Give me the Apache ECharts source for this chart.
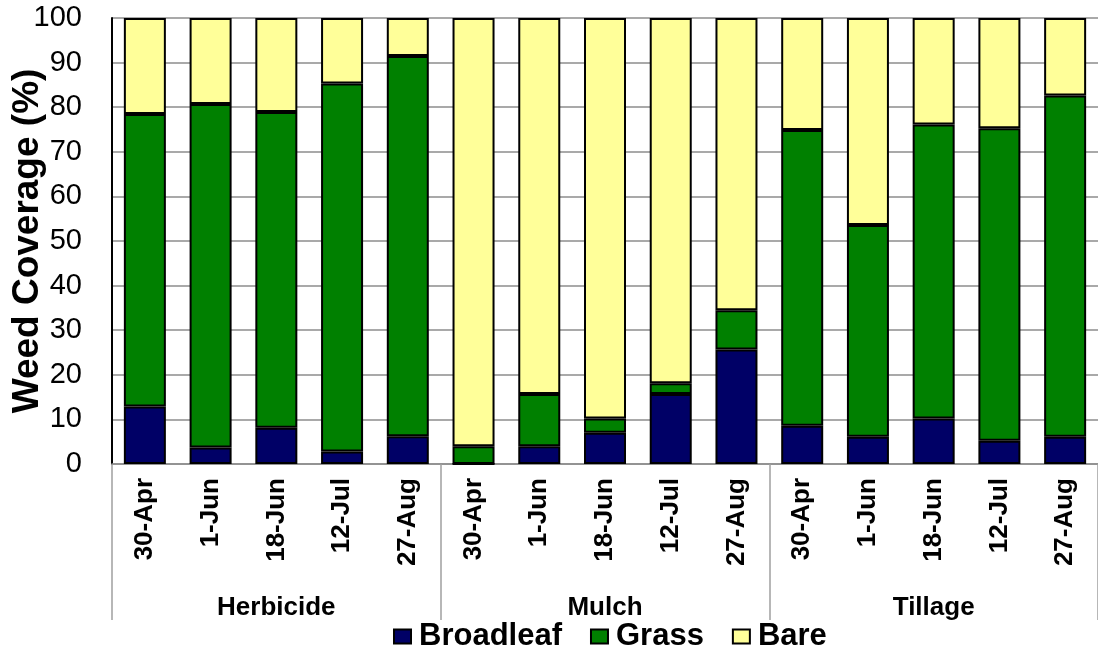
<!DOCTYPE html>
<html>
<head>
<meta charset="utf-8">
<script src="https://cdn.jsdelivr.net/npm/echarts@6/dist/echarts.min.js"></script>
<style>
  html, body { margin: 0; padding: 0; background: #fff; }
  #chart { width: 1098px; height: 652px; }
</style>
</head>
<body>
<div id="chart"></div>
<script>
const dates = ['30-Apr', '1-Jun', '18-Jun', '12-Jul', '27-Aug',
  '30-Apr', '1-Jun', '18-Jun', '12-Jul', '27-Aug',
  '30-Apr', '1-Jun', '18-Jun', '12-Jul', '27-Aug']
const groups = ['Herbicide', 'Mulch', 'Tillage']
const legend = ['Broadleaf', 'Grass', 'Bare']
const broadleaf = [12.9, 3.7, 8.1, 2.8, 6.2, 0, 4.0, 7.0, 15.7, 25.7, 8.6, 6.1, 10.2, 5.2, 6.1]
const grass = [65.6, 77.0, 70.8, 82.5, 85.3, 4.0, 11.7, 3.2, 2.4, 8.8, 66.3, 47.5, 65.9, 70.1, 76.5]
const bare = [21.5, 19.3, 21.1, 14.7, 8.5, 96.0, 84.3, 89.8, 81.9, 65.5, 25.1, 46.4, 23.9, 24.7, 17.4]
const yTicks = [0, 10, 20, 30, 40, 50, 60, 70, 80, 90, 100]

const font = "'Liberation Sans', Arial, sans-serif"
const colorRange = ['#000066', '#008000', '#FFFF99']
const seriesData = [broadleaf, grass, bare]

let option = {
  backgroundColor: '#FFFFFF',
  animation: false,
  textStyle: { fontFamily: font, color: '#000' },
  grid: {
    left: 112,
    right: 0,
    top: 18,
    bottom: 188,
    outerBoundsMode: 'none'
  },
  legend: {
    data: legend,
    left: 388,
    top: 616,
    icon: 'rect',
    itemWidth: 17,
    itemHeight: 14,
    itemGap: 28,
    textStyle: { fontFamily: font, fontSize: 31, fontWeight: 'bold', color: '#000', padding: [0, 0, 0, 3] }
  },
  xAxis: [
    {
      type: 'category',
      data: dates,
      axisLine: { show: true, lineStyle: { color: '#8c8c8c', width: 1.5 } },
      axisTick: { show: false },
      axisLabel: {
        rotate: 90,
        interval: 0,
        margin: 14,
        fontFamily: font,
        fontSize: 26,
        fontWeight: 'bold',
        color: '#000'
      }
    },
    {
      // second row: treatment groups with long separator ticks
      type: 'category',
      data: groups,
      position: 'bottom',
      boundaryGap: true,
      axisLine: { show: false },
      axisTick: { show: true, interval: 0, length: 156, lineStyle: { color: '#a0a0a0', width: 1.5 } },
      axisLabel: {
        interval: 0,
        margin: 131,
        fontFamily: font,
        fontSize: 26,
        fontWeight: 'bold',
        color: '#000'
      }
    }
  ],
  yAxis: {
    type: 'value',
    min: yTicks[0],
    max: yTicks[yTicks.length - 1],
    interval: 10,
    name: 'Weed Coverage (%)',
    nameLocation: 'middle',
    nameGap: 66,
    nameMoveOverlap: false,
    nameTextStyle: { fontFamily: font, fontSize: 37, fontWeight: 'bold', color: '#000' },
    axisLine: { show: true, lineStyle: { color: '#000', width: 2 } },
    axisTick: { show: false },
    axisLabel: { margin: 30, fontFamily: font, fontSize: 29, color: '#000' },
    splitLine: { show: true, lineStyle: { color: '#8c8c8c', width: 1.5 } }
  },
  series: []
}

legend.map((o, index) => {
  option.series.push({
    name: o,
    type: 'bar',
    stack: 'cover',
    barWidth: 42,
    itemStyle: { color: colorRange[index], borderColor: '#000', borderWidth: 2 },
    data: seriesData[index]
  })
})

const chart = echarts.init(document.getElementById('chart'))
chart.setOption(option)
</script>
</body>
</html>
